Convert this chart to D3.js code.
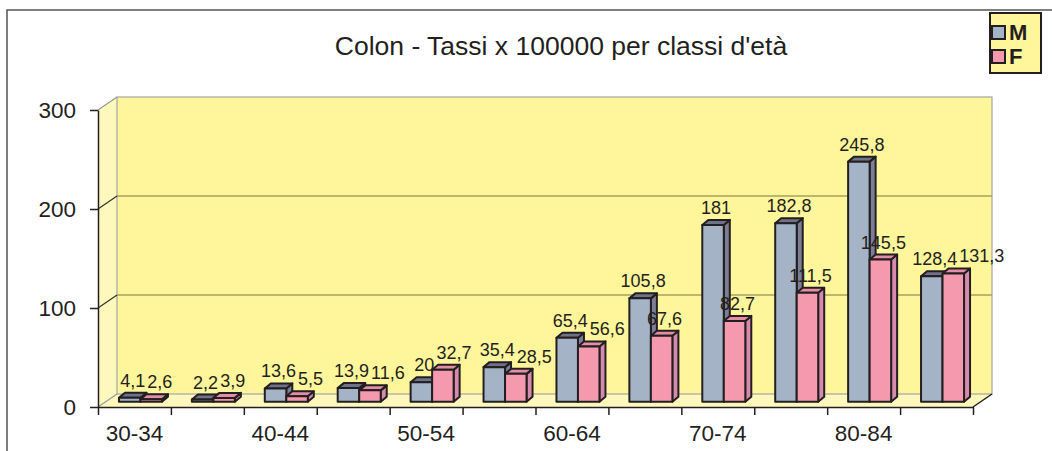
<!DOCTYPE html>
<html>
<head>
<meta charset="utf-8">
<script src="https://cdn.jsdelivr.net/npm/d3@7"></script>
<style>
  body { margin: 0; background: #fff; }
  svg { display: block; font-family: "Liberation Sans", Arial, sans-serif; }
</style>
</head>
<body>
<div id="chart"></div>
<script>
// dati
let categories = ['30-34', '35-39', '40-44', '45-49', '50-54', '55-59', '60-64', '65-69', '70-74', '75-79', '80-84', '85+']
let maleRates = [4.1, 2.2, 13.6, 13.9, 20, 35.4, 65.4, 105.8, 181, 182.8, 245.8, 128.4]
let femaleRates = [2.6, 3.9, 5.5, 11.6, 32.7, 28.5, 56.6, 67.6, 82.7, 111.5, 145.5, 131.3]
let seriesNames = ['M', 'F']
let yTicks = [0, 100, 200, 300]
let xTickLabels = ['30-34', '40-44', '50-54', '60-64', '70-74', '80-84']
let title = "Colon - Tassi x 100000 per classi d'età"

let width = 1052
let height = 451

let front = { left: 98, right: 973, top: 110, bottom: 407 }
let depth = { dx: 19, dy: -13 }
let barShift = { dx: 6, dy: -5.3 }
let barDepth = { dx: 6, dy: -5 }

let colors = {
  M: { front: '#a4b4c6', top: '#6f7389', side: '#7b7e96' },
  F: { front: '#f599af', top: '#e48da6', side: '#d68aae' }
}
let ink = '#231f20'

let svg = d3.select('#chart')
  .append('svg')
  .attr('width', width)
  .attr('height', height)

let x = d3.scaleBand().domain(categories).range([front.left, front.right])
let xEdge = d3.scaleLinear().domain([0, categories.length]).range([front.left, front.right])
let y = d3.scaleLinear().domain([0, 300]).range([front.bottom, front.top])
let yBar = d3.scaleLinear().domain([0, 300])
  .range([front.bottom + barShift.dy, front.bottom + barShift.dy - 293])
let xSeries = d3.scaleBand().domain(seriesNames).range([0, 43])

let poly = pts => 'M' + pts.map(p => p.join(',')).join('L') + 'Z'

// cornice esterna
svg.append('path')
  .attr('d', `M7,${height}V10H${width}`)
  .attr('fill', 'none')
  .attr('stroke', '#555')
  .attr('stroke-width', 1.5)

// titolo
svg.append('text')
  .text(title)
  .attr('x', 561)
  .attr('y', 55)
  .attr('text-anchor', 'middle')
  .attr('font-size', 26.5)
  .attr('fill', ink)

// pareti 3D
let bx0 = front.left + depth.dx
let bx1 = front.right + depth.dx
let by0 = front.bottom + depth.dy
let by1 = front.top + depth.dy

svg.append('path')
  .attr('d', poly([[front.left, front.bottom], [bx0, by0], [bx0, by1], [front.left, front.top]]))
  .attr('fill', '#fff8bd')

svg.append('path')
  .attr('d', poly([[front.left, front.bottom], [front.right, front.bottom], [bx1, by0], [bx0, by0]]))
  .attr('fill', '#fff8bd')

svg.append('rect')
  .attr('x', bx0)
  .attr('y', by1)
  .attr('width', bx1 - bx0)
  .attr('height', by0 - by1)
  .attr('fill', '#fff59a')
  .attr('stroke', '#a5a5a5')
  .attr('stroke-width', 1.2)

// griglia sulla parete di fondo
svg.selectAll('.grid')
  .data(yTicks.filter(d => d > 0 && d < 300))
  .enter()
  .append('line')
  .attr('class', 'grid')
  .attr('x1', bx0)
  .attr('x2', bx1)
  .attr('y1', d => y(d) + depth.dy)
  .attr('y2', d => y(d) + depth.dy)
  .attr('stroke', '#a7a15e')
  .attr('stroke-width', 1.3)

svg.selectAll('.diag')
  .data(yTicks)
  .enter()
  .append('line')
  .attr('class', 'diag')
  .attr('x1', front.left)
  .attr('y1', d => y(d))
  .attr('x2', bx0)
  .attr('y2', d => y(d) + depth.dy)
  .attr('stroke', d => (d === 0 || d === 300) ? '#999' : '#333')
  .attr('stroke-width', 1.2)

svg.append('line')
  .attr('x1', front.right)
  .attr('y1', front.bottom)
  .attr('x2', bx1)
  .attr('y2', by0)
  .attr('stroke', ink)
  .attr('stroke-width', 1.5)

// assi
let yAxis = svg.append('g')
  .attr('transform', `translate(${front.left},0)`)
  .call(d3.axisLeft(y).tickValues(yTicks).tickSize(8).tickPadding(14).tickSizeOuter(0))
yAxis.select('.domain').attr('stroke', ink).attr('stroke-width', 1.5)
yAxis.selectAll('.tick line').attr('stroke', ink).attr('stroke-width', 1.5)
yAxis.selectAll('.tick text')
  .attr('font-size', 22.5)
  .attr('font-family', '"Liberation Sans", Arial, sans-serif')
  .attr('fill', ink)

let xAxis = svg.append('g')
  .attr('transform', `translate(0,${front.bottom})`)
  .call(d3.axisBottom(xEdge).tickValues(d3.range(categories.length + 1)).tickSize(8).tickFormat('').tickSizeOuter(0))
xAxis.select('.domain').attr('stroke', ink).attr('stroke-width', 1.5)
xAxis.selectAll('.tick line').attr('stroke', ink).attr('stroke-width', 1.5)

svg.selectAll('.xlabel')
  .data(xTickLabels)
  .enter()
  .append('text')
  .attr('class', 'xlabel')
  .text(d => d)
  .attr('x', d => x(d) + x.bandwidth() / 2)
  .attr('y', 441)
  .attr('text-anchor', 'middle')
  .attr('font-size', 22.5)
  .attr('fill', ink)

// barre 3D
let bars = []
categories.forEach((c, i) => {
  bars.push({ cat: c, key: 'M', value: maleRates[i] })
  bars.push({ cat: c, key: 'F', value: femaleRates[i] })
})
bars.forEach(d => {
  d.x0 = x(d.cat) + (x.bandwidth() - xSeries.range()[1]) / 2 + barShift.dx + xSeries(d.key)
  d.w = xSeries.bandwidth()
  d.top = yBar(d.value)
  d.bottom = yBar(0)
})

let barG = svg.selectAll('.bar')
  .data(bars)
  .enter()
  .append('g')
  .attr('class', 'bar')

barG.append('path')
  .attr('d', d => poly([[d.x0 + d.w, d.top], [d.x0 + d.w + barDepth.dx, d.top + barDepth.dy],
    [d.x0 + d.w + barDepth.dx, d.bottom + barDepth.dy], [d.x0 + d.w, d.bottom]]))
  .attr('fill', d => colors[d.key].side)

barG.append('path')
  .attr('d', d => poly([[d.x0, d.top], [d.x0 + barDepth.dx, d.top + barDepth.dy],
    [d.x0 + d.w + barDepth.dx, d.top + barDepth.dy], [d.x0 + d.w, d.top]]))
  .attr('fill', d => colors[d.key].top)

barG.append('rect')
  .attr('x', d => d.x0)
  .attr('y', d => d.top)
  .attr('width', d => d.w)
  .attr('height', d => d.bottom - d.top)
  .attr('fill', d => colors[d.key].front)

barG.selectAll('path, rect')
  .attr('stroke', ink)
  .attr('stroke-width', 2)
  .attr('stroke-linejoin', 'round')

// etichette dei valori
let labels = svg.selectAll('.value')
  .data(bars)
  .enter()
  .append('text')
  .attr('class', 'value')
  .text(d => String(d.value).replace('.', ','))
  .attr('font-size', 18)
  .attr('fill', ink)
  .attr('text-anchor', 'middle')
  .attr('x', d => d.x0 + d.w / 2 + 3)
  .attr('y', d => d.top - 11)

// sposta a destra l'etichetta F se si sovrappone a quella M
labels.each(function(d) { d.lw = this.getComputedTextLength() })
labels.filter(d => d.key === 'F').each(function(d) {
  let m = bars.find(b => b.cat === d.cat && b.key === 'M')
  let mRight = m.x0 + m.w / 2 + 3 + m.lw / 2
  let fLeft = d.x0 + d.w / 2 + 3 - d.lw / 2
  let vGap = Math.abs(d.top - m.top)
  if (fLeft < mRight + 1 && vGap < 14) {
    d3.select(this).attr('x', mRight + 2 + d.lw / 2)
  }
})

// legenda
let legend = svg.append('g').attr('transform', 'translate(990,13)')
legend.append('rect')
  .attr('width', 51)
  .attr('height', 60)
  .attr('fill', '#fff59a')
  .attr('stroke', ink)
  .attr('stroke-width', 2)

let item = legend.selectAll('.item')
  .data(seriesNames)
  .enter()
  .append('g')
  .attr('class', 'item')
  .attr('transform', (d, i) => `translate(2,${13 + i * 24})`)

item.append('rect')
  .attr('width', 13)
  .attr('height', 13)
  .attr('fill', d => colors[d].front)
  .attr('stroke', ink)
  .attr('stroke-width', 2)

item.append('text')
  .text(d => d)
  .attr('x', 17)
  .attr('y', 13.5)
  .attr('font-size', 22)
  .attr('font-weight', 'bold')
  .attr('fill', ink)
</script>
</body>
</html>
